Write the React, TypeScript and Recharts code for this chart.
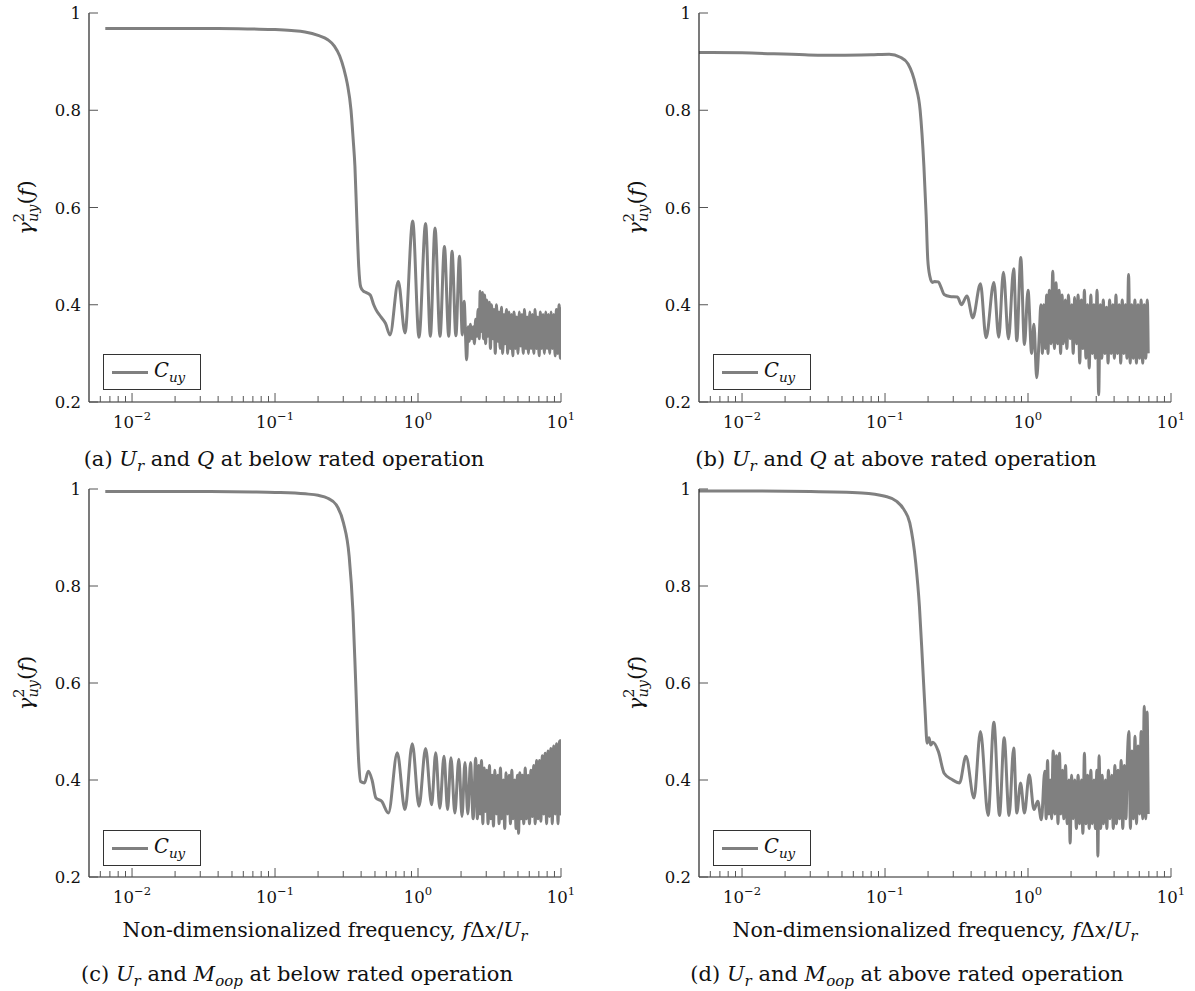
import React from 'react'
import { LineChart, Line, XAxis, YAxis } from 'recharts'

type Pt = [number, number]

// (a) U_r and Q, below rated
const cohA: Pt[] = [
  [0.0065, 0.968], [0.01, 0.968], [0.02, 0.968], [0.04, 0.968], [0.07, 0.967], [0.1, 0.966],
  [0.13, 0.964], [0.162, 0.961], [0.2, 0.954], [0.234, 0.945], [0.26, 0.932], [0.283, 0.912],
  [0.303, 0.885], [0.32, 0.855], [0.34, 0.8], [0.352, 0.74], [0.362, 0.685], [0.373, 0.58],
  [0.385, 0.478], [0.397, 0.437], [0.415, 0.428], [0.435, 0.425], [0.463, 0.42], [0.49, 0.4],
  [0.508, 0.39], [0.55, 0.375], [0.592, 0.362], [0.637, 0.338],
  [0.728, 0.448], [0.811, 0.342], [0.918, 0.572], [1.016, 0.333], [1.13, 0.567], [1.22, 0.335],
  [1.315, 0.558], [1.425, 0.335], [1.53, 0.52], [1.64, 0.335], [1.73, 0.51], [1.84, 0.336],
  [1.95, 0.5], [2.04, 0.338], [2.1, 0.407], [2.19, 0.287],
  [2.24, 0.355], [2.28, 0.325], [2.33, 0.36], [2.38, 0.33], [2.43, 0.355], [2.48, 0.32],
  [2.53, 0.37], [2.58, 0.335], [2.63, 0.39], [2.68, 0.33], [2.72, 0.428], [2.77, 0.345],
  [2.82, 0.425], [2.87, 0.33], [2.92, 0.42], [2.97, 0.32], [3.03, 0.41], [3.09, 0.335],
  [3.15, 0.405], [3.21, 0.31], [3.27, 0.4], [3.33, 0.33], [3.4, 0.39], [3.47, 0.3],
  [3.54, 0.4], [3.61, 0.325], [3.68, 0.385], [3.75, 0.31], [3.83, 0.395], [3.91, 0.3],
  [3.99, 0.38], [4.07, 0.32], [4.15, 0.39], [4.24, 0.3], [4.33, 0.385], [4.42, 0.31],
  [4.51, 0.38], [4.6, 0.295], [4.7, 0.385], [4.8, 0.31], [4.9, 0.375], [5.0, 0.3],
  [5.11, 0.385], [5.22, 0.315], [5.33, 0.38], [5.44, 0.3], [5.56, 0.39], [5.68, 0.31],
  [5.8, 0.375], [5.92, 0.3], [6.05, 0.385], [6.18, 0.31], [6.31, 0.38], [6.45, 0.3],
  [6.59, 0.39], [6.73, 0.31], [6.88, 0.375], [7.03, 0.295], [7.18, 0.385], [7.33, 0.31],
  [7.49, 0.38], [7.65, 0.3], [7.82, 0.385], [7.99, 0.31], [8.16, 0.38], [8.34, 0.3],
  [8.52, 0.385], [8.71, 0.31], [8.9, 0.38], [9.09, 0.295], [9.29, 0.39], [9.49, 0.3],
  [9.7, 0.4], [9.9, 0.29], [10, 0.395],
]

// (b) U_r and Q, above rated
const cohB: Pt[] = [
  [0.005, 0.919], [0.01, 0.918], [0.0275, 0.914], [0.0476, 0.913], [0.08, 0.914], [0.107, 0.915],
  [0.128, 0.909], [0.145, 0.895], [0.164, 0.85], [0.176, 0.8], [0.187, 0.685], [0.194, 0.582],
  [0.199, 0.493], [0.206, 0.458], [0.214, 0.446], [0.222, 0.448], [0.236, 0.447], [0.247, 0.435],
  [0.259, 0.421], [0.284, 0.417], [0.321, 0.416], [0.342, 0.4], [0.374, 0.418], [0.411, 0.373],
  [0.465, 0.443], [0.509, 0.332], [0.577, 0.446], [0.624, 0.333], [0.673, 0.467], [0.73, 0.33],
  [0.794, 0.474], [0.835, 0.326], [0.89, 0.497], [0.944, 0.318], [1.0, 0.43], [1.06, 0.3],
  [1.1, 0.36], [1.15, 0.25], [1.2, 0.34],
  [1.23, 0.4], [1.26, 0.3], [1.29, 0.4], [1.32, 0.31], [1.35, 0.42], [1.38, 0.3],
  [1.41, 0.43], [1.45, 0.32], [1.49, 0.469], [1.53, 0.31], [1.57, 0.445], [1.61, 0.32],
  [1.65, 0.43], [1.69, 0.3], [1.73, 0.42], [1.77, 0.32], [1.82, 0.41], [1.87, 0.31],
  [1.92, 0.42], [1.97, 0.33], [2.02, 0.4], [2.07, 0.3], [2.12, 0.415], [2.18, 0.32],
  [2.24, 0.42], [2.3, 0.28], [2.36, 0.41], [2.42, 0.31], [2.48, 0.43], [2.54, 0.29],
  [2.61, 0.4], [2.68, 0.27], [2.75, 0.42], [2.82, 0.3], [2.89, 0.4], [2.96, 0.29],
  [3.04, 0.43], [3.12, 0.215], [3.2, 0.4], [3.28, 0.29], [3.36, 0.41], [3.45, 0.3],
  [3.54, 0.395], [3.63, 0.28], [3.72, 0.41], [3.82, 0.3], [3.92, 0.4], [4.02, 0.29],
  [4.12, 0.42], [4.23, 0.3], [4.34, 0.4], [4.45, 0.28], [4.56, 0.41], [4.68, 0.3],
  [4.8, 0.4], [4.92, 0.29], [5.05, 0.462], [5.18, 0.28], [5.31, 0.4], [5.45, 0.29],
  [5.59, 0.41], [5.73, 0.28], [5.88, 0.4], [6.03, 0.29], [6.18, 0.41], [6.34, 0.28],
  [6.5, 0.4], [6.66, 0.29], [6.83, 0.41], [6.93, 0.3],
]

// (c) U_r and M_oop, below rated
const cohC: Pt[] = [
  [0.0065, 0.995], [0.01, 0.995], [0.03, 0.995], [0.07, 0.994], [0.1, 0.993], [0.163, 0.99],
  [0.2, 0.987], [0.234, 0.981], [0.267, 0.968], [0.301, 0.93], [0.33, 0.861], [0.351, 0.745],
  [0.366, 0.607], [0.385, 0.436], [0.397, 0.397], [0.422, 0.394], [0.449, 0.418], [0.477, 0.4],
  [0.508, 0.363], [0.557, 0.356], [0.621, 0.332],
  [0.716, 0.456], [0.81, 0.339], [0.912, 0.475], [1.016, 0.346], [1.13, 0.465], [1.245, 0.349],
  [1.33, 0.456], [1.42, 0.342], [1.52, 0.449], [1.61, 0.339], [1.7, 0.446], [1.81, 0.332],
  [1.93, 0.443], [2.03, 0.325], [2.13, 0.436], [2.23, 0.33], [2.33, 0.436], [2.43, 0.32],
  [2.53, 0.445], [2.6, 0.32], [2.66, 0.43], [2.72, 0.33], [2.78, 0.44], [2.84, 0.31],
  [2.9, 0.425], [2.96, 0.335], [3.02, 0.42], [3.09, 0.31], [3.16, 0.43], [3.23, 0.32],
  [3.3, 0.41], [3.37, 0.305], [3.45, 0.42], [3.53, 0.33], [3.61, 0.41], [3.69, 0.31],
  [3.77, 0.425], [3.86, 0.32], [3.95, 0.4], [4.04, 0.3], [4.13, 0.415], [4.23, 0.33],
  [4.33, 0.41], [4.43, 0.31], [4.53, 0.42], [4.63, 0.32], [4.74, 0.4], [4.85, 0.3],
  [4.96, 0.41], [5.05, 0.29], [5.15, 0.415], [5.26, 0.32], [5.37, 0.41], [5.49, 0.31],
  [5.62, 0.425], [5.75, 0.32], [5.88, 0.41], [6.02, 0.31], [6.16, 0.42], [6.3, 0.325],
  [6.45, 0.43], [6.6, 0.31], [6.75, 0.44], [6.91, 0.32], [7.07, 0.44], [7.23, 0.315],
  [7.4, 0.45], [7.57, 0.33], [7.75, 0.455], [7.93, 0.31], [8.11, 0.46], [8.3, 0.325],
  [8.49, 0.465], [8.69, 0.31], [8.89, 0.47], [9.1, 0.33], [9.31, 0.475], [9.53, 0.31],
  [9.75, 0.48], [9.9, 0.33], [10, 0.484],
]

// (d) U_r and M_oop, above rated
const cohD: Pt[] = [
  [0.005, 0.996], [0.01, 0.996], [0.03, 0.995], [0.069, 0.992], [0.1, 0.985], [0.12, 0.975],
  [0.136, 0.957], [0.149, 0.93], [0.164, 0.847], [0.174, 0.758], [0.183, 0.641], [0.191, 0.538],
  [0.197, 0.476], [0.203, 0.487], [0.209, 0.472], [0.216, 0.478], [0.236, 0.459], [0.259, 0.414],
  [0.294, 0.401], [0.332, 0.394], [0.368, 0.449], [0.419, 0.363], [0.465, 0.5], [0.526, 0.327],
  [0.577, 0.519], [0.632, 0.327], [0.681, 0.487], [0.737, 0.327], [0.794, 0.466], [0.835, 0.332],
  [0.887, 0.394], [0.944, 0.332], [1.02, 0.411], [1.1, 0.339], [1.17, 0.356], [1.24, 0.318],
  [1.31, 0.418],
  [1.34, 0.32], [1.37, 0.44], [1.4, 0.33], [1.43, 0.4], [1.46, 0.32], [1.5, 0.46],
  [1.54, 0.33], [1.58, 0.45], [1.62, 0.31], [1.66, 0.455], [1.7, 0.33], [1.74, 0.42],
  [1.78, 0.32], [1.83, 0.43], [1.88, 0.31], [1.93, 0.4], [1.97, 0.27], [2.02, 0.41],
  [2.07, 0.32], [2.12, 0.4], [2.18, 0.3], [2.24, 0.41], [2.3, 0.31], [2.36, 0.4],
  [2.42, 0.29], [2.48, 0.455], [2.54, 0.31], [2.61, 0.41], [2.68, 0.3], [2.75, 0.42],
  [2.82, 0.31], [2.89, 0.4], [2.96, 0.3], [3.03, 0.42], [3.08, 0.243], [3.14, 0.45],
  [3.22, 0.3], [3.3, 0.41], [3.38, 0.31], [3.47, 0.4], [3.56, 0.3], [3.65, 0.42],
  [3.75, 0.32], [3.85, 0.41], [3.95, 0.3], [4.05, 0.43], [4.15, 0.31], [4.26, 0.42],
  [4.37, 0.32], [4.48, 0.44], [4.6, 0.3], [4.72, 0.43], [4.84, 0.32], [4.96, 0.45],
  [5.08, 0.5], [5.2, 0.3], [5.33, 0.46], [5.46, 0.32], [5.6, 0.49], [5.74, 0.31],
  [5.88, 0.47], [6.03, 0.33], [6.18, 0.5], [6.34, 0.32], [6.5, 0.552], [6.66, 0.32],
  [6.8, 0.54], [6.93, 0.33],
]

const xTicks = [
  0.006, 0.007, 0.008, 0.009, 0.01, 0.02, 0.03, 0.04, 0.05, 0.06, 0.07, 0.08, 0.09,
  0.1, 0.2, 0.3, 0.4, 0.5, 0.6, 0.7, 0.8, 0.9, 1, 2, 3, 4, 5, 6, 7, 8, 9, 10,
]
const majorX = [0.01, 0.1, 1, 10]
const majorExp = ['−2', '−1', '0', '1']
const yTicks = [0.2, 0.4, 0.6, 0.8, 1]

const FONT = '"DejaVu Serif", "Liberation Serif", serif'
const LINE = '#808080'
const FRAME = '#222'
const TICK = '#555'

function BottomTick(props: any) {
  const { x, y, payload } = props
  const i = majorX.indexOf(payload.value)
  const len = i >= 0 ? 9 : 6
  return (
    <g>
      <line x1={x} y1={y} x2={x} y2={y - len} stroke={TICK} strokeWidth={1} />
      {i >= 0 && (
        <text x={x} y={y + 26} textAnchor="middle" fontFamily={FONT} fontSize={16.5} fill="#111">
          10<tspan dy={-8} fontSize={11.5}>{majorExp[i]}</tspan>
        </text>
      )}
    </g>
  )
}

function TopTick(props: any) {
  const { x, y, payload } = props
  const len = majorX.includes(payload.value) ? 9 : 6
  return <line x1={x} y1={y} x2={x} y2={y + len} stroke={TICK} strokeWidth={1} />
}

function LeftTick(props: any) {
  const { x, y, payload } = props
  return (
    <g>
      <line x1={x} y1={y} x2={x + 9} y2={y} stroke={TICK} strokeWidth={1} />
      <text x={x - 8} y={y + 6} textAnchor="end" fontFamily={FONT} fontSize={16.5} fill="#111">
        {String(payload.value)}
      </text>
    </g>
  )
}

function RightTick(props: any) {
  const { x, y } = props
  return <line x1={x} y1={y} x2={x - 9} y2={y} stroke={TICK} strokeWidth={1} />
}

function YTitle(props: any) {
  const vb = props.viewBox || {}
  const cx = (vb.x || 0) + 33
  const cy = (vb.y || 0) + (vb.height || 0) / 2
  return (
    <text x={cx} y={cy} transform={`rotate(-90 ${cx} ${cy})`} textAnchor="middle"
      fontFamily={FONT} fontSize={21} fill="#111">
      <tspan fontStyle="italic">γ</tspan>
      <tspan fontSize={14.5} dy={-9}>2</tspan>
      <tspan fontSize={14.5} fontStyle="italic" dx={-9} dy={14}>uy</tspan>
      <tspan dy={-5}>(</tspan>
      <tspan fontStyle="italic">f</tspan>
      <tspan>)</tspan>
    </text>
  )
}

function XTitle(props: any) {
  const vb = props.viewBox || {}
  const cx = (vb.x || 0) + (vb.width || 0) / 2
  const cy = (vb.y || 0) + 60
  return (
    <text x={cx} y={cy} textAnchor="middle" fontFamily={FONT} fontSize={20.5} fill="#111">
      Non-dimensionalized frequency,{' '}
      <tspan fontStyle="italic">f</tspan>Δ<tspan fontStyle="italic">x</tspan>/
      <tspan fontStyle="italic">U</tspan>
      <tspan fontStyle="italic" fontSize={14.5} dy={4}>r</tspan>
    </text>
  )
}

function LegendBox({ left, top }: { left: number; top: number }) {
  return (
    <div style={{
      position: 'absolute', left, top, width: 98, height: 36, boxSizing: 'border-box',
      border: '1.3px solid #333', background: '#fff',
    }}>
      <div style={{ position: 'absolute', left: 8, top: 15.5, width: 36, height: 3, background: LINE }} />
      <div style={{
        position: 'absolute', left: 50, top: 4, fontFamily: FONT, fontSize: 19.5,
        fontStyle: 'italic', lineHeight: '24px', color: '#111', whiteSpace: 'nowrap',
      }}>
        C<span style={{ fontSize: 13.5, position: 'relative', top: 5 }}>uy</span>
      </div>
    </div>
  )
}

function Caption({ center, top, tag, sym, sub, rest }: any) {
  return (
    <div style={{
      position: 'absolute', left: center - 300, top, width: 600, textAlign: 'center',
      fontFamily: FONT, fontSize: 21, lineHeight: '24px', color: '#111', whiteSpace: 'nowrap',
    }}>
      ({tag}) <i>U</i><i style={{ fontSize: 15, position: 'relative', top: 5 }}>r</i> and <i>{sym}</i>
      {sub && <i style={{ fontSize: 15, position: 'relative', top: 5 }}>{sub}</i>} at {rest} rated operation
    </div>
  )
}

function Panel({ pts, left, top, width, height, right, xh, title }: any) {
  const rows = pts.map(([f, c]: Pt) => ({ f, c }))
  return (
    <div style={{ position: 'absolute', left, top }}>
      <LineChart width={width} height={height} data={rows}
        margin={{ top: 13, right, left: 0, bottom: 0 }}>
        <XAxis dataKey="f" type="number" scale="log" domain={[0.005, 10]} allowDataOverflow
          ticks={xTicks} interval={0} height={xh} tickSize={0} tickMargin={0} tickLine={false}
          tick={BottomTick} axisLine={{ stroke: FRAME, strokeWidth: 1.2 }}
          label={title ? <XTitle /> : undefined} />
        <XAxis xAxisId="top" orientation="top" type="number" scale="log" domain={[0.005, 10]}
          allowDataOverflow ticks={xTicks} interval={0} height={0} tickSize={0} tickMargin={0}
          tickLine={false} tick={TopTick} axisLine={{ stroke: FRAME, strokeWidth: 1.2 }} />
        <YAxis type="number" domain={[0.2, 1]} allowDataOverflow ticks={yTicks} interval={0}
          width={89} tickSize={0} tickMargin={0} tickLine={false} tick={LeftTick}
          axisLine={{ stroke: FRAME, strokeWidth: 1.2 }} label={<YTitle />} />
        <YAxis yAxisId="r" orientation="right" type="number" domain={[0.2, 1]} allowDataOverflow
          ticks={yTicks} interval={0} width={0} tickSize={0} tickMargin={0} tickLine={false}
          tick={RightTick} axisLine={{ stroke: FRAME, strokeWidth: 1.2 }} />
        <Line dataKey="c" type="monotone" stroke={LINE} strokeWidth={3} dot={false}
          activeDot={false} isAnimationActive={false} />
      </LineChart>
    </div>
  )
}

export default function App() {
  return (
    <div style={{
      position: 'absolute', left: 0, top: 0, width: 1195, height: 991, background: '#fff',
      overflow: 'hidden', fontFamily: FONT,
    }}>
      <Panel pts={cohA} left={0} top={0} width={600} height={440} right={39} xh={38} />
      <Panel pts={cohB} left={610} top={0} width={585} height={440} right={24} xh={38} />
      <Panel pts={cohC} left={0} top={476} width={600} height={476} right={39} xh={75} title />
      <Panel pts={cohD} left={610} top={476} width={585} height={476} right={24} xh={75} title />

      <LegendBox left={103} top={354} />
      <LegendBox left={713} top={354} />
      <LegendBox left={103} top={830} />
      <LegendBox left={713} top={830} />

      <Caption center={284} top={447} tag="a" sym="Q" rest="below" />
      <Caption center={896} top={447} tag="b" sym="Q" rest="above" />
      <Caption center={297} top={962} tag="c" sym="M" sub="oop" rest="below" />
      <Caption center={907} top={962} tag="d" sym="M" sub="oop" rest="above" />
    </div>
  )
}
